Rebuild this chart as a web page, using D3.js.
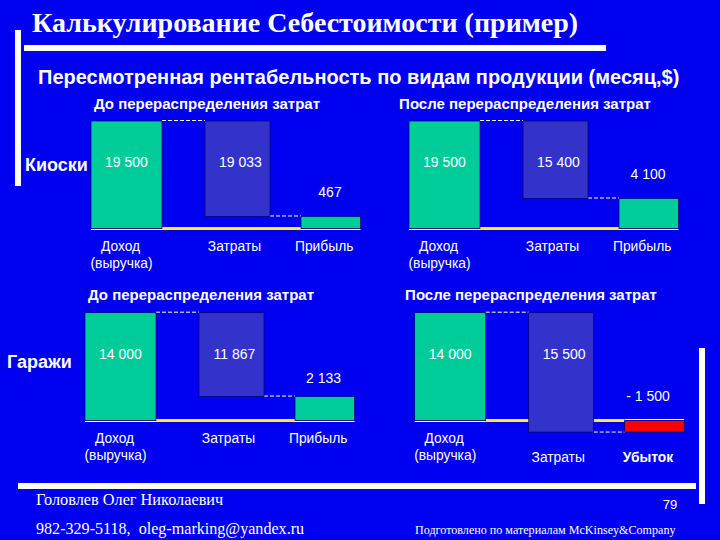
<!DOCTYPE html>
<html lang="ru">
<head>
<meta charset="utf-8" />
<title>Калькулирование Себестоимости</title>
<script src="https://cdnjs.cloudflare.com/ajax/libs/d3/7.7.0/d3.min.js"></script>
<style>
  html, body { margin: 0; padding: 0; background: #0000f0; }
  svg { display: block; }
  text { fill: #fff; font-family: "Liberation Sans", sans-serif; white-space: pre; }
  .serif { font-family: "Liberation Serif", serif; }
</style>
</head>
<body>
<div id="chart"></div>
<script>
// values printed on the slide
const categories = ["Доход", "Затраты", "Прибыль"];
const kioskBefore = [19500, 19033, 467];
const kioskAfter = [19500, 15400, 4100];
const garageBefore = [14000, 11867, 2133];
const garageAfter = [14000, 15500, -1500];

// the slide is not to scale: level where the cost bar ends, read on each row's own scale
const kioskLevels = [2180, 5440];
const garageLevels = [3110, -1500];

const rowLabels = ["Киоски", "Гаражи"];
const panelTitles = ["До перераспределения затрат", "После перераспределения затрат"];

const w = 720;
const h = 540;
const svg = d3.select("#chart").append("svg").attr("width", w).attr("height", h);

const fmt = d3.formatLocale({ decimal: ",", thousands: "\u00a0", grouping: [3], currency: ["", "$"] }).format(",d");
const label = v => v < 0 ? "- " + fmt(-v) : fmt(v);

// frame of the slide
const frame = [[15, 30, 6, 156], [24, 45, 582, 6], [18, 483, 678, 6], [699, 348, 6, 156]];
svg.selectAll("rect.frame").data(frame).enter().append("rect")
  .attr("class", "frame")
  .attr("x", d => d[0]).attr("y", d => d[1])
  .attr("width", d => d[2]).attr("height", d => d[3])
  .attr("fill", "#fffff4");

svg.append("text").attr("class", "serif").attr("x", 32).attr("y", 32)
  .attr("font-size", 28).attr("font-weight", "bold").attr("fill", "#f4f4e8")
  .text("Калькулирование Себестоимости (пример)");
svg.append("text").attr("x", 38).attr("y", 84)
  .attr("font-size", 20).attr("font-weight", "bold")
  .text("Пересмотренная рентабельность по видам продукции (месяц,$)");

// positions inside a panel, measured from the left edge of the revenue bar
const barX = d3.scaleOrdinal().domain(categories).range([0, 114, 210]);
const barW = d3.scaleOrdinal().domain(categories).range([71, 65, 59.5]);
const tickX = d3.scaleOrdinal().domain(categories).range([29, 143, 232.7]);

function panel(o) {
  const y = d3.scaleLinear().domain([0, o.values[0]]).range([o.base, o.top]);
  const g = svg.append("g").attr("transform", "translate(" + o.x + ",0)");
  const rev = o.values[0];

  svg.append("text").attr("x", o.titleX).attr("y", o.titleY)
    .attr("text-anchor", "middle").attr("font-size", 15).attr("font-weight", "bold")
    .text(o.title);

  // yellow base between revenue and result, the cost bar sits over it
  g.append("line")
    .attr("x1", barW(categories[0])).attr("x2", barX(categories[2]))
    .attr("y1", y(0)).attr("y2", y(0))
    .attr("stroke", "#ffee22").attr("stroke-width", 3);

  // dashed links between the bars
  const links = [
    [barW(categories[0]), barX(categories[1]), y(rev) - 0.5],
    [barX(categories[1]) + barW(categories[1]), barX(categories[2]), y(o.level) + (o.level < 0 ? 0 : -0.5)]
  ];
  g.selectAll("line.link").data(links).enter().append("line")
    .attr("class", "link")
    .attr("x1", d => d[0]).attr("x2", d => d[1])
    .attr("y1", d => d[2]).attr("y2", d => d[2])
    .attr("stroke", "#fff").attr("stroke-width", 1).attr("stroke-dasharray", "4,2");

  const bars = [
    { c: categories[0], y0: rev, y1: 0, fill: "#00cc99" },
    { c: categories[1], y0: rev, y1: o.level, fill: "#3333cc" },
    { c: categories[2], y0: Math.max(o.level, 0), y1: Math.min(o.level, 0), fill: o.level < 0 ? "#ff0000" : "#00cc99" }
  ];
  g.selectAll("rect").data(bars).enter().append("rect")
    .attr("x", d => barX(d.c))
    .attr("y", d => y(d.y0))
    .attr("width", d => barW(d.c))
    .attr("height", d => y(d.y1) - y(d.y0))
    .attr("fill", d => d.fill)
    .attr("stroke", "#000066").attr("stroke-width", 0.7);

  // thin white line under the revenue and result bars
  [categories[0], categories[2]].forEach(c => {
    const off = o.level < 0 && c == categories[2] ? -1 : 1;
    g.append("line")
      .attr("x1", barX(c)).attr("x2", barX(c) + barW(c))
      .attr("y1", y(0) + off).attr("y2", y(0) + off)
      .attr("stroke", "#fffff0").attr("stroke-width", 1);
  });

  // numbers
  g.selectAll("text.val").data(o.values).enter().append("text")
    .attr("class", "val")
    .attr("x", (d, i) => i < 2 ? barX(categories[i]) + 35.5 : barX(categories[2]) + o.resultDx)
    .attr("y", (d, i) => i < 2 ? o.valueY : y(Math.max(o.level, 0)) + o.resultDy)
    .attr("text-anchor", "middle").attr("font-size", 14).attr("fill", "#fff")
    .text(d => label(d));

  // category labels
  const axis = d3.axisBottom(tickX).tickSize(0);
  const ax = g.append("g").attr("transform", "translate(0," + o.tickY + ")").call(axis);
  ax.select(".domain").remove();
  ax.selectAll("text")
    .attr("y", 0).attr("dy", 0)
    .attr("font-family", "Liberation Sans").attr("font-size", 13.8)
    .attr("fill", "#fff")
    .each(function (d) {
      const t = d3.select(this);
      if (d == categories[0]) {
        t.append("tspan").attr("x", 1).attr("y", 17).text("(выручка)");
      } else if (o.level < 0) {
        t.attr("y", 18.5);
        if (d == categories[2]) t.attr("font-weight", "bold").text("Убыток");
      }
    });
}

const panels = [
  { values: kioskBefore, level: kioskLevels[0], x: 91, base: 228.5, top: 121, title: panelTitles[0], titleX: 207, titleY: 109, valueY: 166.5, resultDx: 29, resultDy: -19.5, tickY: 251 },
  { values: kioskAfter, level: kioskLevels[1], x: 409, base: 228.5, top: 121, title: panelTitles[1], titleX: 525, titleY: 109, valueY: 166.5, resultDx: 29, resultDy: -19.5, tickY: 251 },
  { values: garageBefore, level: garageLevels[0], x: 85, base: 420.5, top: 312.7, title: panelTitles[0], titleX: 201, titleY: 300, valueY: 358.5, resultDx: 28.5, resultDy: -14, tickY: 443 },
  { values: garageAfter, level: garageLevels[1], x: 414.7, base: 420.5, top: 312.7, title: panelTitles[1], titleX: 531, titleY: 300, valueY: 358.5, resultDx: 23.4, resultDy: -20, tickY: 443 }
];
panels.forEach(panel);

svg.append("text").attr("x", 25).attr("y", 171).attr("font-size", 18).attr("font-weight", "bold").text(rowLabels[0]);
svg.append("text").attr("x", 7).attr("y", 368).attr("font-size", 18).attr("font-weight", "bold").text(rowLabels[1]);

// footer
svg.append("text").attr("class", "serif").attr("x", 36).attr("y", 505).attr("font-size", 16.3).text("Головлев Олег Николаевич");
svg.append("text").attr("class", "serif").attr("x", 36).attr("y", 534).attr("font-size", 16.1).text("982-329-5118,  oleg-marking@yandex.ru");
svg.append("text").attr("x", 670).attr("y", 509).attr("text-anchor", "middle").attr("font-size", 13).text("79");
svg.append("text").attr("class", "serif").attr("x", 415).attr("y", 534).attr("font-size", 12.1).text("Подготовлено по материалам McKinsey&Company");
</script>
</body>
</html>
